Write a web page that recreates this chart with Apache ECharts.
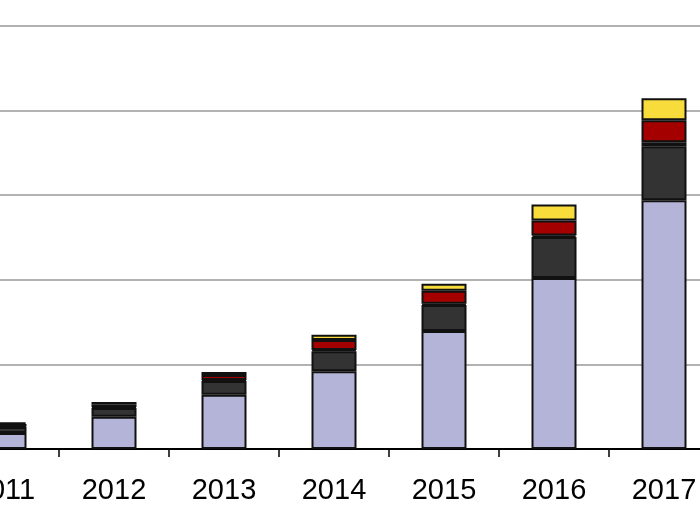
<!DOCTYPE html>
<html>
<head>
<meta charset="utf-8">
<script src="https://cdn.jsdelivr.net/npm/echarts@6/dist/echarts.min.js"></script>
<style>html,body{margin:0;padding:0;background:#fff;overflow:hidden;width:700px;height:525px;}#c{position:absolute;left:-51px;top:0;width:770px;height:525px;}</style>
</head>
<body>
<div id="c"></div>
<script>
const years = ['2011','2012','2013','2014','2015','2016','2017'];
const lavender = [19, 38, 64, 92, 139.5, 202, 294];
const darkGray = [7, 10.5, 16.5, 23.6, 30.7, 48.5, 64];
const green = [1, 1, 1, 1.5, 1.5, 2, 4.5];
const red = [2.5, 3.5, 6, 11.8, 15.4, 17.7, 26];
const yellow = [2, 2.5, 3.5, 6, 8.3, 18.9, 26];
const yTicks = [0, 100, 200, 300, 400, 500];

const chart = echarts.init(document.getElementById('c'), null, {renderer: 'canvas'});
function s(name, data, color) {
  return {
    name, type: 'bar', stack: 'total', data, barWidth: 45,
    itemStyle: {color, borderColor: '#111', borderWidth: 2},
    emphasis: {disabled: true}
  };
}
chart.setOption({
  animation: false,
  backgroundColor: '#fff',
  grid: {left: 0, right: 0, top: 26, bottom: 76, containLabel: false},
  xAxis: {
    type: 'category', data: years,
    axisLine: {lineStyle: {color: '#000', width: 2}},
    axisTick: {show: true, length: 8, lineStyle: {color: '#000', width: 1.5}},
    axisLabel: {color: '#000', fontSize: 29, fontFamily: 'Liberation Sans, Arial, sans-serif', margin: 27}
  },
  yAxis: {
    type: 'value', min: yTicks[0], max: yTicks[yTicks.length - 1], interval: 100,
    axisLine: {show: false}, axisTick: {show: false}, axisLabel: {show: false},
    splitLine: {lineStyle: {color: '#999', width: 1.5}}
  },
  series: [
    s('A', lavender, '#b4b4d8'),
    s('B', darkGray, '#333333'),
    s('C', green, '#4a9a1f'),
    s('D', red, '#a50000'),
    s('E', yellow, '#f7dc3c')
  ]
});
</script>
</body>
</html>
